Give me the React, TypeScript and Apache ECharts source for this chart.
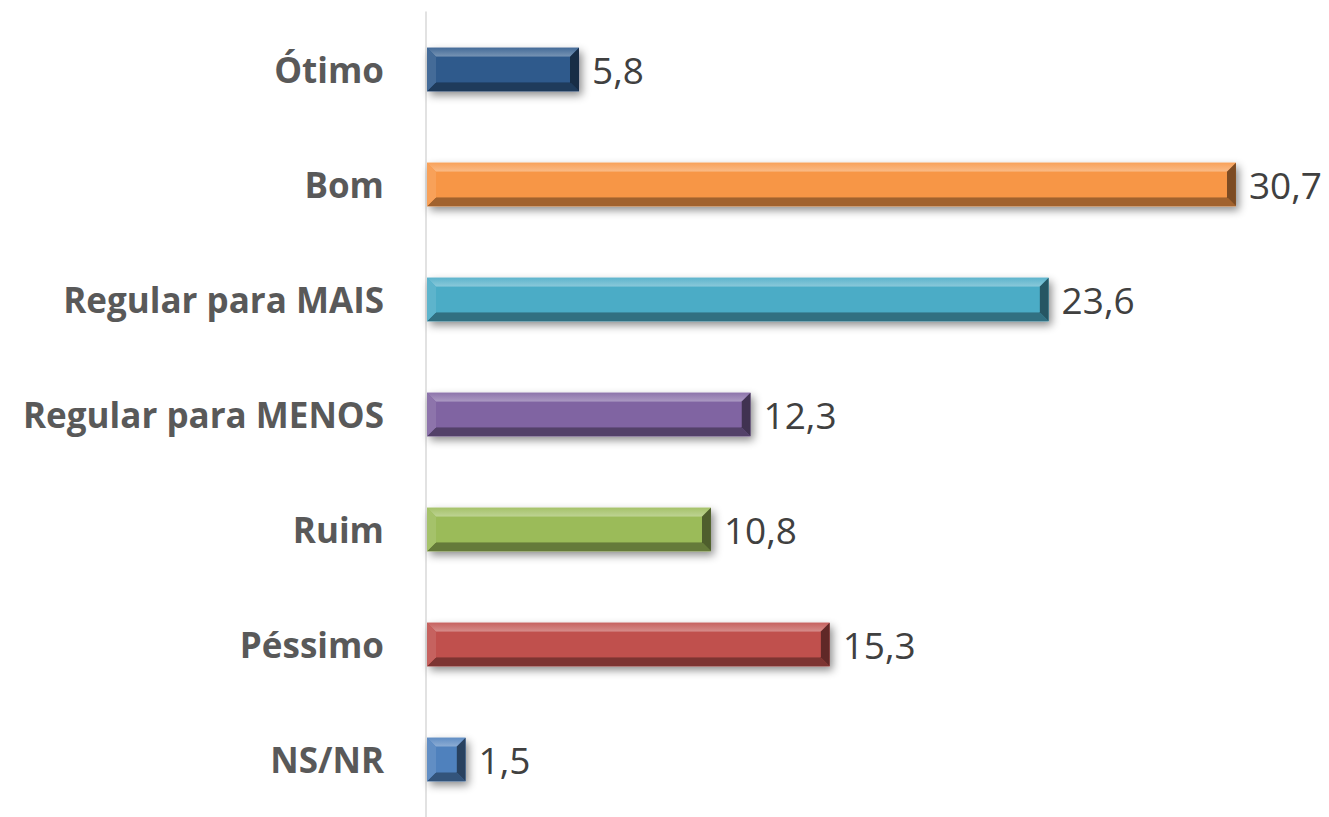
import React, { useEffect, useRef } from "react";
import * as echarts from "echarts";

const categories = ["Ótimo", "Bom", "Regular para MAIS", "Regular para MENOS", "Ruim", "Péssimo", "NS/NR"];
const values = [5.8, 30.7, 23.6, 12.3, 10.8, 15.3, 1.5];
const colors = ["#2f5a8c", "#f79646", "#4bacc6", "#8064a2", "#9bbb59", "#c0504d", "#4f81bd"];

function shade(hex: string, amt: number): string {
  const n = parseInt(hex.slice(1), 16);
  let r = (n >> 16) & 255, g = (n >> 8) & 255, b = n & 255;
  const f = (c: number) => Math.max(0, Math.min(255, Math.round(amt >= 0 ? c + (255 - c) * amt : c * (1 + amt))));
  r = f(r); g = f(g); b = f(b);
  return "rgb(" + r + "," + g + "," + b + ")";
}

export default function App() {
  const ref = useRef<HTMLDivElement>(null);
  useEffect(() => {
    if (!ref.current) return;
    const chart = echarts.init(ref.current, undefined, { renderer: "svg" });
    const data = values.map((v, i) => [v, i]);
    chart.setOption({
      animation: false,
      backgroundColor: "#ffffff",
      grid: { left: 426, top: 12, height: 813, width: 897, containLabel: false },
      xAxis: {
        type: "value", min: 0, max: 34, show: false,
      },
      yAxis: {
        type: "category", data: categories, inverse: true,
        axisLine: { show: true, lineStyle: { color: "#d9d9d9", width: 1.5 } },
        axisTick: { show: false },
        axisLabel: {
          margin: 42, color: "#595959", fontSize: 35, fontWeight: "bold",
          fontFamily: "'Open Sans', sans-serif",
        },
        splitLine: { show: false },
      },
      series: [{
        type: "custom",
        data,
        encode: { x: 0, y: 1 },
        renderItem: (params: any, api: any) => {
          const v = api.value(0);
          const idx = api.value(1);
          const s = api.coord([0, idx]);
          const e = api.coord([v, idx]);
          const h = api.size([0, 1])[1] * 0.38;
          const x0 = s[0] + 1, x1 = e[0];
          const y0 = s[1] - h / 2, y1 = s[1] + h / 2;
          const w = x1 - x0;
          const b = Math.min(9, w / 2 - 4, h / 2 - 2);
          const c = colors[idx];
          const label = String(values[idx]).replace(".", ",");
          return {
            type: "group",
            children: [
              { type: "rect", shape: { x: x0, y: y0, width: w, height: h },
                style: { fill: c, shadowBlur: 8, shadowOffsetX: 3, shadowOffsetY: 4, shadowColor: "rgba(0,0,0,0.45)" } },
              { type: "polygon", shape: { points: [[x0, y0], [x1, y0], [x1 - b, y0 + b], [x0 + b, y0 + b]] },
                style: { fill: new echarts.graphic.LinearGradient(0, 0, 0, 1, [
                  { offset: 0, color: shade(c, 0.1) }, { offset: 1, color: shade(c, 0.35) }]) } },
              { type: "polygon", shape: { points: [[x0, y1], [x1, y1], [x1 - b, y1 - b], [x0 + b, y1 - b]] },
                style: { fill: shade(c, -0.35) } },
              { type: "polygon", shape: { points: [[x0, y0], [x0 + b, y0 + b], [x0 + b, y1 - b], [x0, y1]] },
                style: { fill: shade(c, 0.1) } },
              { type: "polygon", shape: { points: [[x1, y0], [x1 - b, y0 + b], [x1 - b, y1 - b], [x1, y1]] },
                style: { fill: shade(c, -0.5) } },
              { type: "rect", shape: { x: x0 + b, y: y0 + b, width: Math.max(0, w - 2 * b), height: h - 2 * b },
                style: { fill: c } },
              { type: "text", x: x1 + 13, y: s[1],
                style: { text: label, fill: "#404040", fontSize: 37, fontFamily: "'Open Sans', sans-serif",
                  align: "left", verticalAlign: "middle" } },
            ],
          };
        },
      }],
    });
    return () => chart.dispose();
  }, []);
  return <div ref={ref} style={{ position: "fixed", left: 0, top: 0, width: 1329, height: 817, background: "#fff" }} />;
}
